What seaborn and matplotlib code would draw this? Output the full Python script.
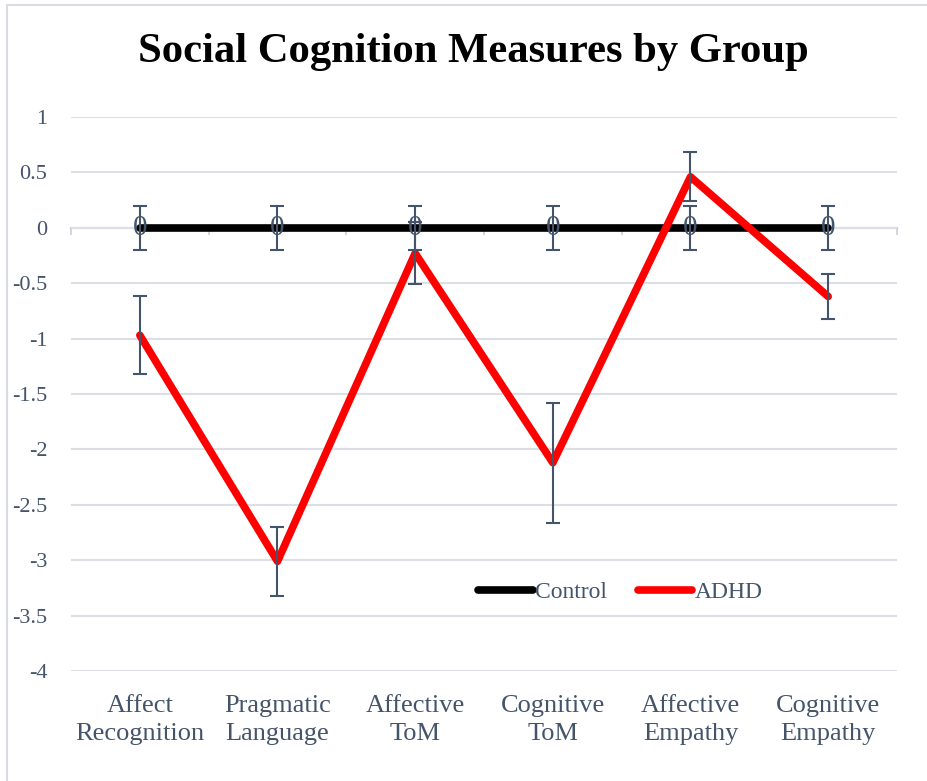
import matplotlib
matplotlib.use('Agg')
import matplotlib.pyplot as plt
import matplotlib.patches as patches
import seaborn as sns
import pandas as pd
import numpy as np

measures = ['Affect\nRecognition', 'Pragmatic\nLanguage', 'Affective\nToM',
            'Cognitive\nToM', 'Affective\nEmpathy', 'Cognitive\nEmpathy']
control = [0, 0, 0, 0, 0, 0]
control_err = [0.2, 0.2, 0.2, 0.2, 0.2, 0.2]
adhd = [-0.97, -3.01, -0.23, -2.12, 0.46, -0.62]
adhd_err = [0.35, 0.31, 0.28, 0.54, 0.22, 0.2]

sns.set_style('white')
plt.rcParams['font.family'] = ['Liberation Serif', 'DejaVu Serif']

txt = '#44546A'
grid = '#DCE0E6'

df = pd.DataFrame({
    'measure': measures * 2,
    'score': control + adhd,
    'group': ['Control'] * 6 + ['ADHD'] * 6,
})

fig = plt.figure(figsize=(9.28, 7.81), dpi=100)
ax = fig.add_axes([71 / 928, 1 - 671 / 781, 826 / 928, 554 / 781])

sns.lineplot(data=df, x='measure', y='score', hue='group', sort=False,
             palette={'Control': 'black', 'ADHD': '#FF0000'}, linewidth=5.5,
             ax=ax, zorder=3)

x = np.arange(len(measures))
ax.errorbar(x, control, yerr=control_err, fmt='none', ecolor=txt, elinewidth=1.5,
            capsize=5, capthick=1.5, zorder=4)
ax.errorbar(x, adhd, yerr=adhd_err, fmt='none', ecolor=txt, elinewidth=1.5,
            capsize=5, capthick=1.5, zorder=4)
for xi, v in zip(x, control):
    ax.text(xi, v, '0', ha='center', va='center', color=txt, fontsize=21, zorder=5)

ax.set_xlim(-0.5, 5.5)
ax.set_ylim(-4, 1)
ax.set_yticks(np.arange(-4, 1.01, 0.5))
ax.set_yticklabels([f'{v:g}' for v in np.arange(-4, 1.01, 0.5)])
ax.yaxis.grid(True, color=grid, linewidth=1.5)
ax.set_axisbelow(True)
for s in ax.spines.values():
    s.set_visible(False)
ax.tick_params(axis='y', length=0, pad=17, labelsize=16, labelcolor=txt)
ax.tick_params(axis='x', length=0, pad=17, labelsize=19, labelcolor=txt)
for lab in ax.get_xticklabels():
    lab.set_linespacing(1.38)
ax.set_xlabel('')
ax.set_ylabel('')

# zero axis line with category-boundary ticks
sec = ax.secondary_xaxis(0, transform=ax.transData)
sec.set_xticks(np.arange(-0.5, 6, 1))
sec.set_xticklabels([])
sec.tick_params(length=5, color='#C8CDD5', width=1.2)
sec.spines['bottom'].set_color('#C8CDD5')
sec.spines['bottom'].set_linewidth(1.5)
for k in ['top', 'left', 'right']:
    sec.spines[k].set_visible(False)

leg = ax.legend(loc='center', bbox_to_anchor=(0.665, 0.142), ncol=2, frameon=False,
                fontsize=17, handlelength=2.3, handletextpad=0.1, columnspacing=1.3)
for t in leg.get_texts():
    t.set_color(txt)
for h in leg.get_lines():
    h.set_solid_capstyle('round')

fig.text(473 / 928, 1 - 52 / 781, 'Social Cognition Measures by Group', ha='center',
         va='center', fontsize=30.7, fontweight='bold', color='black')

fig.patches.append(patches.Rectangle((7 / 928, -0.1), 1.1, 1.1 - 5 / 781,
                                     transform=fig.transFigure, fill=False,
                                     edgecolor='#D9DCE3', linewidth=1.5))

fig.savefig('out.png', dpi=100)
